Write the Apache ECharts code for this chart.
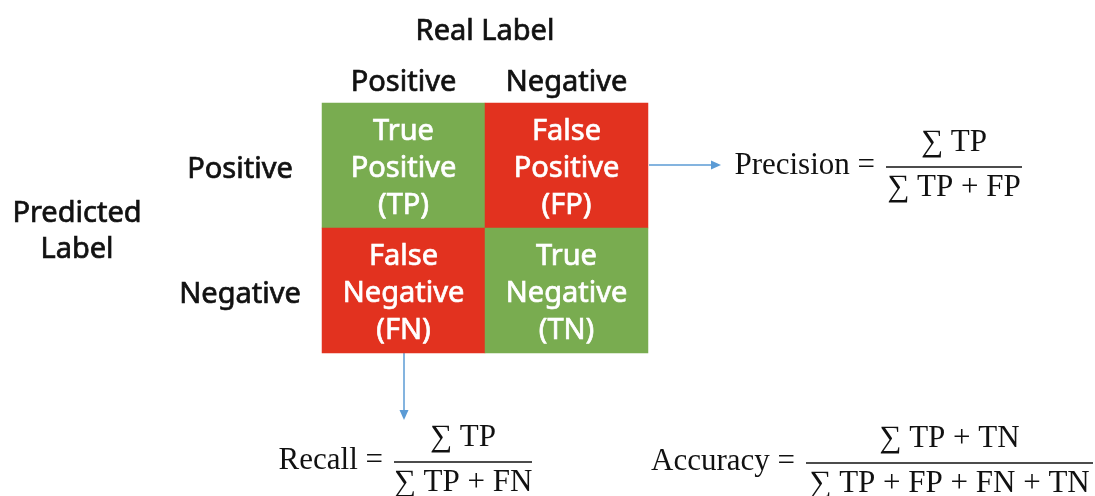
<!DOCTYPE html>
<html>
<head>
<meta charset="utf-8">
<script src="https://cdn.jsdelivr.net/npm/echarts@6/dist/echarts.min.js"></script>
<style>
  html, body { margin: 0; padding: 0; background: #fff; }
  #chart { width: 1095px; height: 496px; }
</style>
</head>
<body>
<div id="chart"></div>
<script>
// axis categories
const realLabels = ['Positive', 'Negative'];
const predictedLabels = ['Positive', 'Negative'];
// cell text, row = predicted, col = real
const cellTexts = [
  ['True\nPositive\n(TP)', 'False\nPositive\n(FP)'],
  ['False\nNegative\n(FN)', 'True\nNegative\n(TN)']
];
// 1 = correct prediction, 0 = wrong
const correct = [
  [1, 0],
  [0, 1]
];

const GREEN = '#79ac50';
const RED = '#e2321f';
const ARROW = '#5b9bd5';
const SANS = '"Noto Sans", "Open Sans", sans-serif';
const SERIF = '"Liberation Serif", "DejaVu Serif", serif';
const SANS_SIZE = 29;

const cells = [];
for (let r = 0; r < predictedLabels.length; r++) {
  for (let c = 0; c < realLabels.length; c++) {
    cells.push({ value: [c, r, correct[r][c]], name: cellTexts[r][c] });
  }
}

const chart = echarts.init(document.getElementById('chart'));

// formula: label right-aligned before the fraction bar
function formula(y, label, num, den, barLeft, barRight) {
  const cx = (barLeft + barRight) / 2;
  const base = { font: '31px ' + SERIF, fill: '#111', verticalAlign: 'middle' };
  return [
    { type: 'text', x: barLeft - 11, y: y, style: Object.assign({ text: label, align: 'right' }, base) },
    { type: 'text', x: cx, y: y - 23, style: Object.assign({ text: num, align: 'center' }, base) },
    { type: 'line', shape: { x1: barLeft, y1: y + 1, x2: barRight, y2: y + 1 }, style: { stroke: '#111', lineWidth: 1.6 } },
    { type: 'text', x: cx, y: y + 22, style: Object.assign({ text: den, align: 'center' }, base) }
  ];
}

// slight outline makes the regular face look like a medium weight
const labelStyle = {
  fontFamily: SANS, fontSize: SANS_SIZE, color: '#111',
  textBorderColor: '#111', textBorderWidth: 0.7
};

chart.setOption({
  animation: false,
  grid: { left: 322, top: 103, width: 326, height: 250 },
  xAxis: {
    type: 'category',
    position: 'top',
    data: realLabels,
    name: 'Real Label',
    nameLocation: 'middle',
    nameGap: 57,
    nameTextStyle: labelStyle,
    axisLine: { show: false },
    axisTick: { show: false },
    splitLine: { show: false },
    axisLabel: Object.assign({ margin: 6 }, labelStyle)
  },
  yAxis: {
    type: 'category',
    inverse: true,
    data: predictedLabels,
    axisLine: { show: false },
    axisTick: { show: false },
    splitLine: { show: false },
    axisLabel: Object.assign({
      margin: 82,
      align: 'center',
      formatter: v => '{r|' + v + '}',
      rich: { r: Object.assign({ padding: [8, 0, 0, 0] }, labelStyle) }
    }, labelStyle)
  },
  visualMap: {
    show: false,
    type: 'piecewise',
    dimension: 2,
    pieces: [
      { value: 1, color: GREEN },
      { value: 0, color: RED }
    ]
  },
  series: [{
    type: 'heatmap',
    data: cells,
    itemStyle: { borderWidth: 0 },
    emphasis: { disabled: true },
    label: {
      show: true,
      formatter: p => p.name,
      offset: [0, 3],
      color: '#fff',
      textBorderColor: '#fff',
      textBorderWidth: 0.7,
      fontFamily: SANS,
      fontSize: SANS_SIZE,
      lineHeight: 37
    }
  }],
  graphic: [
    // y axis title
    { type: 'text', x: 77, y: 232, style: { text: 'Predicted\nLabel', font: SANS_SIZE + 'px ' + SANS, lineHeight: 36, fill: '#111', stroke: '#111', lineWidth: 0.7, align: 'center', verticalAlign: 'middle' } },
    // arrow to precision
    { type: 'line', shape: { x1: 649, y1: 165, x2: 713, y2: 165 }, style: { stroke: ARROW, lineWidth: 1.5 } },
    { type: 'polygon', shape: { points: [[721, 165], [711, 160.5], [711, 169.5]] }, style: { fill: ARROW } },
    // arrow to recall
    { type: 'line', shape: { x1: 404, y1: 353, x2: 404, y2: 412 }, style: { stroke: ARROW, lineWidth: 1.5 } },
    { type: 'polygon', shape: { points: [[404, 420], [399.5, 410], [408.5, 410]] }, style: { fill: ARROW } }
  ]
    .concat(formula(166, 'Precision =', '\u2211 TP', '\u2211 TP + FP', 886, 1022))
    .concat(formula(461, 'Recall =', '\u2211 TP', '\u2211 TP + FN', 394, 532))
    .concat(formula(462, 'Accuracy =', '\u2211 TP + TN', '\u2211 TP + FP + FN + TN', 806, 1093))
});
</script>
</body>
</html>
